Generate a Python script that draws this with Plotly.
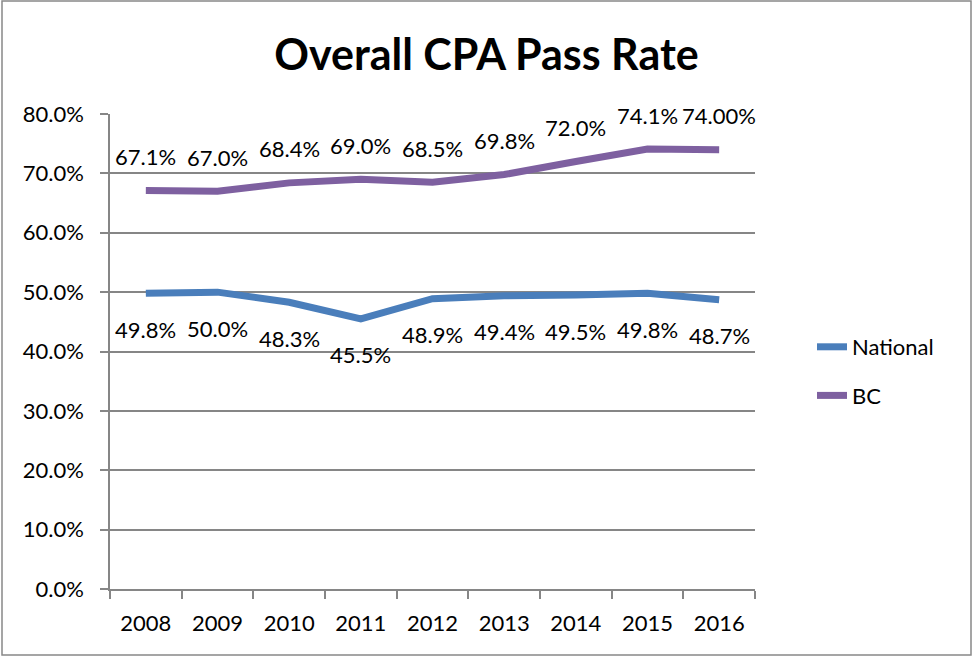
import plotly.graph_objects as go

years = ["2008", "2009", "2010", "2011", "2012", "2013", "2014", "2015", "2016"]
national = [0.498, 0.500, 0.483, 0.455, 0.489, 0.494, 0.495, 0.498, 0.487]
bc = [0.671, 0.670, 0.684, 0.690, 0.685, 0.698, 0.720, 0.741, 0.740]
national_labels = ["49.8%", "50.0%", "48.3%", "45.5%", "48.9%", "49.4%", "49.5%", "49.8%", "48.7%"]
bc_labels = ["67.1%", "67.0%", "68.4%", "69.0%", "68.5%", "69.8%", "72.0%", "74.1%", "74.00%"]

FONT = "Lato, Calibri, Carlito, sans-serif"
BLUE = "#4A7EBB"
PURPLE = "#7E60A0"
FS = 22

W, H = 973, 656
L, R, T, B = 110, 218, 114, 67

fig = go.Figure()
fig.add_trace(go.Scatter(x=years, y=national, mode="lines", name="National",
                         line=dict(color=BLUE, width=7), legendgroup="a"))
fig.add_trace(go.Scatter(x=years, y=bc, mode="lines", name="BC",
                         line=dict(color=PURPLE, width=7), legendgroup="b"))

for i, (y, t) in enumerate(zip(national, national_labels)):
    fig.add_annotation(x=i, y=y, text=t, showarrow=False, yshift=-36,
                       font=dict(family=FONT, size=FS, color="black"))
for i, (y, t) in enumerate(zip(bc, bc_labels)):
    fig.add_annotation(x=i, y=y, text=t, showarrow=False, yshift=34,
                       font=dict(family=FONT, size=FS, color="black"))

pw, ph = W - L - R, H - T - B
fig.add_shape(type="rect", xref="paper", yref="paper",
              x0=(2 - L) / pw, x1=(971 - L) / pw,
              y0=(H - B - 655) / ph, y1=(H - B - 1) / ph,
              line=dict(color="#888888", width=1.5), layer="below")

fig.update_layout(
    width=W, height=H,
    margin=dict(l=L, r=R, t=T, b=B),
    paper_bgcolor="white", plot_bgcolor="white",
    font=dict(family=FONT, size=FS, color="black"),
    title=dict(text="<b>Overall CPA Pass Rate</b>", x=0.5, xanchor="center",
               xref="container", y=1 - 55 / H, yanchor="middle",
               font=dict(family=FONT, size=43, color="black")),
    showlegend=True,
    legend=dict(x=(812 - L) / pw, xanchor="left", y=(H - B - 326) / ph, yanchor="top",
                traceorder="grouped", tracegroupgap=17,
                font=dict(family=FONT, size=FS, color="black"),
                bgcolor="rgba(0,0,0,0)"),
    xaxis=dict(type="category", range=[-0.5, 8.5], showline=True, linecolor="#868686",
               linewidth=1.5, ticks="outside", tickson="boundaries", ticklen=8,
               tickcolor="#868686", tickwidth=1.5, showgrid=False,
               ticklabelstandoff=14,
               tickfont=dict(family=FONT, size=FS, color="black")),
    yaxis=dict(range=[0, 0.8], dtick=0.1, tickformat=".1%", showline=True,
               linecolor="#868686", linewidth=1.5, ticks="outside", ticklen=8,
               tickcolor="#868686", tickwidth=1.5, showgrid=True,
               gridcolor="#868686", gridwidth=1.5, zeroline=False,
               ticklabelstandoff=12,
               tickfont=dict(family=FONT, size=FS, color="black")),
)

fig.write_html("out.html", config={"displayModeBar": False},
               post_script="document.body.style.margin='0';")
